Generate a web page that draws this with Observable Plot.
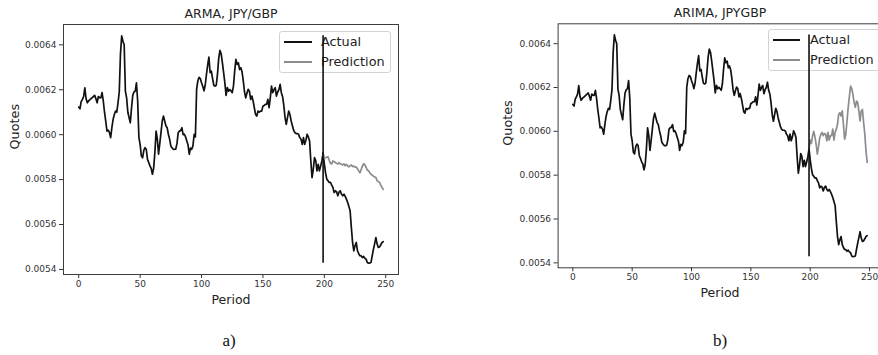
<!DOCTYPE html>
<html><head><meta charset="utf-8">
<script src="https://cdn.jsdelivr.net/npm/d3@7"></script>
<script src="https://cdn.jsdelivr.net/npm/@observablehq/plot@0.6"></script>
<style>
html,body{margin:0;padding:0;background:#fff;}
#wrap{position:relative;width:878px;height:355px;overflow:hidden;font-family:"DejaVu Sans",sans-serif;}
.panel{position:absolute;top:0;width:max-content;}
.panel svg{max-width:none !important;}
.legend{position:absolute;border:1px solid #d3d3d3;border-radius:3px;background:rgba(255,255,255,0.8);box-sizing:border-box;}
.lt{position:absolute;font-size:12.8px;line-height:16px;color:#222;white-space:nowrap;}
.sw{position:absolute;height:0;border-top:2px solid;}
.cap{position:absolute;font-family:"Liberation Serif",serif;font-size:17px;transform:translate(-50%,-50%);color:#111;}
</style></head><body><div id="wrap"></div>
<script>
// Actual JPY/GBP quotes, periods 0..248
const actual = [
0.006123,0.006115,0.006147,0.006157,0.006170,0.006209,0.006160,0.006142,0.006150,0.006155,
0.006160,0.006165,0.006170,0.006175,0.006160,0.006142,0.006170,0.006165,0.006164,0.006187,
0.006150,0.006100,0.006060,0.006016,0.006020,0.006010,0.005987,0.006031,0.006068,0.006090,
0.006105,0.006100,0.006142,0.006190,0.006360,0.006440,0.006416,0.006400,0.006194,0.006164,
0.006100,0.006076,0.006053,0.006120,0.006175,0.006190,0.006194,0.006231,0.006150,0.005987,
0.005957,0.005905,0.005897,0.005930,0.005942,0.005935,0.005890,0.005876,0.005861,0.005850,
0.005824,0.005850,0.005920,0.006016,0.005980,0.005913,0.005960,0.006010,0.006060,0.006083,
0.006061,0.006040,0.006031,0.006002,0.005980,0.005950,0.005942,0.005935,0.005935,0.005936,
0.005960,0.006009,0.006016,0.006018,0.006031,0.006000,0.006002,0.005990,0.005972,0.005955,
0.005913,0.005940,0.005935,0.005950,0.006002,0.005990,0.006202,0.006240,0.006255,0.006250,
0.006231,0.006216,0.006195,0.006220,0.006268,0.006310,0.006345,0.006276,0.006283,0.006250,
0.006220,0.006216,0.006220,0.006270,0.006340,0.006375,0.006360,0.006320,0.006276,0.006231,
0.006175,0.006210,0.006194,0.006201,0.006195,0.006187,0.006216,0.006283,0.006335,0.006313,
0.006320,0.006290,0.006298,0.006280,0.006240,0.006190,0.006164,0.006185,0.006202,0.006194,
0.006157,0.006172,0.006150,0.006120,0.006090,0.006083,0.006105,0.006100,0.006105,0.006105,
0.006127,0.006130,0.006135,0.006135,0.006157,0.006120,0.006164,0.006216,0.006187,0.006200,
0.006209,0.006172,0.006190,0.006200,0.006224,0.006187,0.006170,0.006130,0.006076,0.006046,
0.006076,0.006105,0.006090,0.006061,0.006040,0.006020,0.006009,0.006005,0.006005,0.006002,
0.005987,0.005980,0.005957,0.005987,0.005957,0.005975,0.006002,0.005990,0.005972,0.005883,
0.005809,0.005846,0.005898,0.005885,0.005839,0.005868,0.005839,0.005860,0.005883,0.005920,
0.005870,0.005830,0.005802,0.005795,0.005787,0.005788,0.005775,0.005765,0.005742,0.005750,
0.005745,0.005728,0.005745,0.005750,0.005735,0.005728,0.005735,0.005725,0.005713,0.005698,
0.005680,0.005661,0.005587,0.005520,0.005483,0.005505,0.005520,0.005483,0.005470,0.005461,
0.005460,0.005453,0.005458,0.005450,0.005446,0.005431,0.005428,0.005429,0.005431,0.005461,
0.005490,0.005515,0.005542,0.005513,0.005498,0.005500,0.005510,0.005520,0.005524
];
// Predictions, periods 199..248
const predStart = 199;
const predARMA = [
0.005910,0.005895,0.005897,0.005900,0.005902,0.005885,0.005872,0.005870,0.005883,0.005880,
0.005876,0.005872,0.005870,0.005875,0.005870,0.005868,0.005865,0.005870,0.005862,0.005868,
0.005860,0.005857,0.005862,0.005865,0.005858,0.005860,0.005855,0.005856,0.005848,0.005839,
0.005830,0.005845,0.005860,0.005871,0.005865,0.005855,0.005842,0.005840,0.005830,0.005824,
0.005820,0.005815,0.005812,0.005809,0.005795,0.005791,0.005787,0.005775,0.005764,0.005757
];
const predARIMA = [
0.005920,0.005960,0.005945,0.005980,0.006000,0.005975,0.005940,0.005896,0.005930,0.005970,
0.005987,0.005995,0.005980,0.005990,0.005987,0.005957,0.005995,0.005960,0.005980,0.005980,
0.006010,0.005960,0.005995,0.006010,0.006032,0.006078,0.006085,0.006070,0.006093,0.006030,
0.005964,0.005987,0.006047,0.006108,0.006160,0.006206,0.006195,0.006168,0.006131,0.006110,
0.006138,0.006131,0.006093,0.006048,0.006093,0.006100,0.006040,0.005987,0.005911,0.005858
];
const splitPeriod = 199;
const xTicks = [0, 50, 100, 150, 200, 250];
const yTicks = [0.0054, 0.0056, 0.0058, 0.0060, 0.0062, 0.0064];
const titles = ["ARMA, JPY/GBP", "ARIMA, JPYGBP"];
const captions = ["a)", "b)"];
const legendLabels = ["Actual", "Prediction"];
const xLabel = "Period";
const yLabel = "Quotes";

const actualColor = "#111111";
const predColor = "#8c8c8c";

const actualRows = actual.map((v, i) => ({period: i, value: v}));
const toRows = arr => arr.map((v, i) => ({period: predStart + i, value: v}));
const yMin = d3.min(actual), yMax = d3.max(actual);
const n = actual.length - 1;
const xDomain = [-0.05 * n, n * 1.05];
const yPad = (yMax - yMin) * 0.05;
const yDomain = [yMin - yPad, yMax + yPad];

function makePanel(cfg) {
  return Plot.plot({
    width: cfg.width, height: cfg.height,
    marginLeft: cfg.mL, marginRight: cfg.mR, marginTop: cfg.mT, marginBottom: cfg.mB,
    style: {background: "transparent", fontFamily: "DejaVu Sans, sans-serif", fontSize: "9px", color: "#333", overflow: "visible", maxWidth: "none"},
    x: {domain: xDomain, ticks: xTicks, tickSize: 4, tickPadding: 2, label: null},
    y: {domain: yDomain, ticks: yTicks, tickFormat: d3.format(".4f"), tickSize: 4, tickPadding: 3, label: null},
    marks: [
      Plot.frame({stroke: "#3c3c3c", strokeWidth: 1}),
      Plot.line(actualRows, {x: "period", y: "value", stroke: actualColor, strokeWidth: 1.7}),
      Plot.line(toRows(cfg.pred), {x: "period", y: "value", stroke: predColor, strokeWidth: 1.7}),
      Plot.ruleX([{p: splitPeriod, lo: yMin, hi: yMax}], {x: "p", y1: "lo", y2: "hi", stroke: actualColor, strokeWidth: 1.6}),
      Plot.text([cfg.title], {text: d => d, frameAnchor: "top", dy: cfg.titleDy, fontSize: 12.5, fill: "#222", lineAnchor: "middle"}),
      Plot.text([xLabel], {text: d => d, frameAnchor: "bottom", dy: cfg.periodDy, fontSize: 12.5, fill: "#222", lineAnchor: "middle"}),
      Plot.text([yLabel], {text: d => d, frameAnchor: "left", dx: cfg.quotesDx, rotate: -90, fontSize: 12.8, fill: "#222", lineAnchor: "middle"})
    ]
  });
}

const wrap = document.getElementById("wrap");

function addLegend(box) {
  const lg = document.createElement("div");
  lg.className = "legend";
  Object.assign(lg.style, {left: box.left + "px", top: box.top + "px", width: box.w + "px", height: box.h + "px"});
  const colors = [actualColor, predColor];
  legendLabels.forEach((lab, i) => {
    const cy = box.rows[i];
    const sw = document.createElement("div");
    sw.className = "sw";
    Object.assign(sw.style, {left: box.swL + "px", width: box.swW + "px", top: (cy - 1) + "px", borderTopColor: colors[i]});
    lg.appendChild(sw);
    const t = document.createElement("div");
    t.className = "lt";
    t.textContent = lab;
    Object.assign(t.style, {left: box.txtL + "px", top: (cy - 8) + "px"});
    lg.appendChild(t);
  });
  wrap.appendChild(lg);
}

// legends (behind the svg, like in the reference where the split line crosses them)
addLegend({left: 279, top: 31, w: 112, h: 42, swL: 4, swW: 28, txtL: 41, rows: [10, 29.5]});
addLegend({left: 768, top: 29, w: 114, h: 42, swL: 4, swW: 27, txtL: 41, rows: [10, 29.5]});

const panels = [
  {left: 0, width: 440, height: 310, mL: 63, mR: 42, mT: 24, mB: 36, pred: predARMA, title: titles[0], titleDy: -11, periodDy: 25, quotesDx: -49},
  {left: 494, width: 400, height: 310, mL: 63.6, mR: 12.6, mT: 23.3, mB: 42.7, pred: predARIMA, title: titles[1], titleDy: -10.5, periodDy: 25.5, quotesDx: -50}
];
panels.forEach(cfg => {
  const d = document.createElement("div");
  d.className = "panel";
  d.style.left = cfg.left + "px";
  d.appendChild(makePanel(cfg));
  wrap.appendChild(d);
});

[[229, 341], [720, 341]].forEach((pos, i) => {
  const c = document.createElement("div");
  c.className = "cap";
  c.textContent = captions[i];
  c.style.left = pos[0] + "px";
  c.style.top = pos[1] + "px";
  wrap.appendChild(c);
});
</script>
</body></html>
